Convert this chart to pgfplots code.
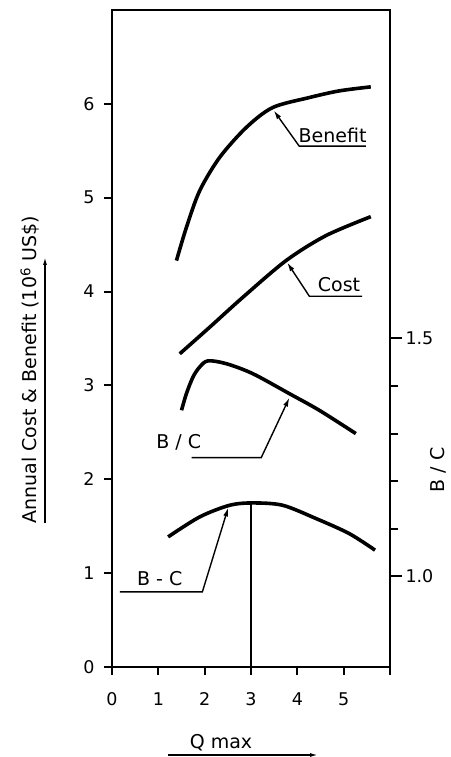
\documentclass[border=0pt]{standalone}
\usepackage{fontspec}
\setmainfont{DejaVu Sans}
\usepackage{pgfplots}
\pgfplotsset{compat=1.18}
\usetikzlibrary{arrows.meta}
\newcommand{\lblfont}{\fontsize{19}{22}\selectfont}
\newcommand{\tckfont}{\fontsize{17.5}{19}\selectfont}
\begin{document}
\begin{tikzpicture}[x=1pt,y=1pt]
\useasboundingbox (0,0) rectangle (450,757);
\begin{axis}[
  at={(112pt,90pt)}, anchor=south west, scale only axis,
  width=278pt, height=657pt,
  xmin=0, xmax=6, ymin=0, ymax=7,
  xtick={0,1,2,3,4,5,6}, xticklabels={0,1,2,3,4,5,{}},
  ytick={0,1,2,3,4,5,6},
  tick pos=left, tick align=outside, major tick length=8pt,
  axis line style={line width=2.5pt},
  every tick/.style={black, line width=2pt},
  ticklabel style={font=\tckfont},
  /pgf/number format/assume math mode=true,
  xticklabel style={yshift=-14pt},
  yticklabel style={xshift=-6pt},
  clip=false,
]
\addplot[black, line width=3.6pt, smooth] coordinates {
 (1.391,4.33) (1.606,4.684) (1.892,5.074) (2.323,5.429) (2.897,5.748) (3.469,5.961) (4.258,6.067) (4.903,6.138) (5.585,6.181)};
\addplot[black, line width=3.6pt, smooth] coordinates {
 (1.462,3.337) (2.108,3.620) (2.824,3.939) (3.757,4.330) (4.617,4.596) (5.585,4.798)};
\addplot[black, line width=3.6pt, smooth] coordinates {
 (1.211,1.386) (1.892,1.599) (2.538,1.723) (3.039,1.748) (3.684,1.723) (4.402,1.582) (5.118,1.422) (5.677,1.245)};
\addplot[black, line width=1.8pt] coordinates {(3,0) (3,1.748)};
% annotations
\draw[line width=1.4pt, -{Latex[length=9pt,width=5pt]}] (axis cs:5.48,5.55) -- (axis cs:4.04,5.55) -- (axis cs:3.49,5.93);
\node[anchor=south, inner sep=1pt, font=\lblfont] at (axis cs:4.76,5.57) {Benefit};
\draw[line width=1.4pt, -{Latex[length=9pt,width=5pt]}] (axis cs:5.40,3.95) -- (axis cs:4.26,3.95) -- (axis cs:3.78,4.31);
\node[anchor=south, inner sep=1pt, font=\lblfont] at (axis cs:4.9,3.98) {Cost};
\draw[line width=1.4pt, -{Latex[length=9pt,width=5pt]}] (axis cs:1.72,2.23) -- (axis cs:3.22,2.23) -- (axis cs:3.83,2.87);
\node[anchor=south, inner sep=1pt, font=\lblfont] at (axis cs:1.44,2.30) {B / C};
\draw[line width=1.4pt, -{Latex[length=9pt,width=5pt]}] (axis cs:0.17,0.80) -- (axis cs:1.95,0.80) -- (axis cs:2.51,1.70);
\node[anchor=south, inner sep=1pt, font=\lblfont] at (axis cs:1.03,0.85) {B - C};
\end{axis}
\begin{axis}[
  at={(112pt,90pt)}, anchor=south west, scale only axis,
  width=278pt, height=657pt,
  xmin=0, xmax=6, ymin=0.809, ymax=2.191,
  axis x line=none, axis y line*=right,
  ytick={1.0,1.5}, yticklabels={1.0,1.5},
  minor ytick={1.1,1.2,1.3,1.4},
  tick align=outside, major tick length=12pt, minor tick length=8pt,
  axis line style={line width=2.5pt},
  every tick/.style={black, line width=2pt},
  ticklabel style={font=\tckfont},
]
\addplot[black, line width=3.6pt, smooth] coordinates {
 (1.50,1.349) (1.606,1.384) (1.748,1.419) (1.892,1.440) (2.071,1.453) (2.467,1.447) (3.039,1.426) (3.828,1.384) (4.473,1.349) (5.262,1.300)};
\end{axis}
\node[rotate=90, font=\lblfont] at (30,387) {Annual Cost \& Benefit (10\textsuperscript{6} US\$)};
\draw[line width=1.4pt, -{Latex[length=8pt,width=4pt]}] (45,234) -- (45,500);
\node[rotate=90, font=\lblfont] at (438,287) {B / C};
\node[font=\lblfont] at (221,14) {Q max};
\draw[line width=1.4pt, -{Latex[length=8pt,width=4pt]}] (168,2) -- (318,2);
\end{tikzpicture}
\end{document}
